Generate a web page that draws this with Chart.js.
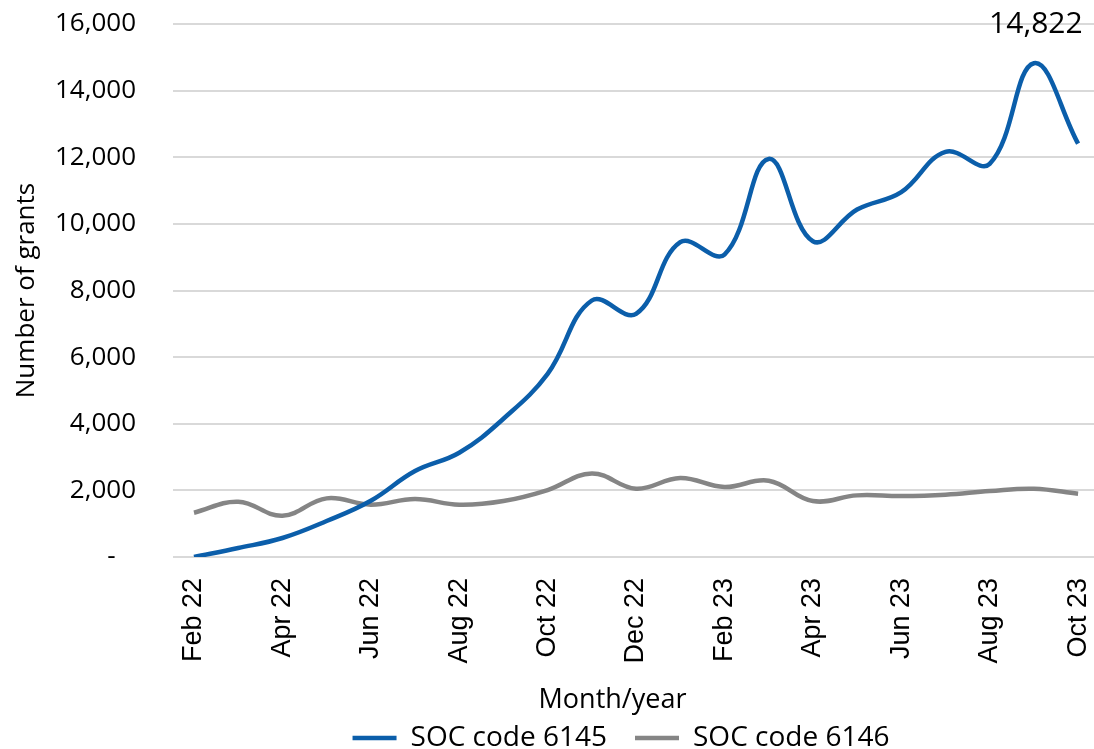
<!DOCTYPE html>
<html>
<head>
<meta charset="utf-8">
<script src="https://cdn.jsdelivr.net/npm/chart.js"></script>
<style>
  html, body { margin: 0; padding: 0; background: #fff; }
  #wrap { width: 1094px; height: 749px; position: relative; }
</style>
</head>
<body>
<div id="wrap"><canvas id="myChart"></canvas></div>
<script>
// months shown on the x axis (every month is a data point)
const months = ['Feb 22', 'Mar 22', 'Apr 22', 'May 22', 'Jun 22', 'Jul 22', 'Aug 22', 'Sep 22',
  'Oct 22', 'Nov 22', 'Dec 22', 'Jan 23', 'Feb 23', 'Mar 23', 'Apr 23', 'May 23', 'Jun 23',
  'Jul 23', 'Aug 23', 'Sep 23', 'Oct 23'];

// number of grants
const soc6145 = [0, 270, 570, 1080, 1690, 2580, 3130, 4150, 5500, 7700, 7300, 9450, 9080,
  11950, 9480, 10430, 10950, 12160, 11800, 14822, 12410];
const soc6146 = [1330, 1660, 1240, 1760, 1570, 1740, 1570, 1680, 2010, 2510, 2050, 2370, 2100,
  2290, 1680, 1850, 1830, 1870, 1980, 2050, 1900];

const seriesNames = ['SOC code 6145', 'SOC code 6146'];
const yTickValues = [0, 2000, 4000, 6000, 8000, 10000, 12000, 14000, 16000];
const xTickIndexes = [0, 2, 4, 6, 8, 10, 12, 14, 16, 18, 20];

// only the peak gets a data label
const labelledIndex = soc6145.indexOf(Math.max(...soc6145));

const BLUE = '#0B5EAA';
const GREY = '#858585';

const toPoints = arr => arr.map((v, i) => ({ x: i, y: v }));

const peakLabel = {
  id: 'peakLabel',
  afterDatasetsDraw(chart) {
    const pt = chart.getDatasetMeta(0).data[labelledIndex];
    const ctx = chart.ctx;
    ctx.save();
    ctx.font = '30px "Open Sans"';
    ctx.fillStyle = '#000';
    ctx.textAlign = 'center';
    ctx.textBaseline = 'middle';
    ctx.fillText(soc6145[labelledIndex].toLocaleString('en-US'), pt.x + 2, pt.y - 39);
    ctx.restore();
  }
};

// keep the legend short for layout, then put it where the reference has it
const legendPlace = {
  id: 'legendPlace',
  beforeLayout(chart) {
    const lg = chart.legend;
    if (lg && !lg._fixedFit) {
      const fit = lg.fit;
      lg.fit = function () { fit.call(this); this.height = 36; };
      lg._fixedFit = true;
    }
  },
  afterLayout(chart) {
    const lg = chart.legend;
    lg.left = 148;
    lg.right = chart.width;
    lg.top = 696;
    lg.bottom = 749;

    // the x title sits a bit left of the plot centre in the reference
    const xs = chart.scales.x;
    if (!xs._titleShift) {
      const drawTitle = xs.drawTitle;
      xs.drawTitle = function () {
        const l = this.left;
        this.left = l - 42;
        drawTitle.call(this);
        this.left = l;
      };
      xs._titleShift = true;
    }
  }
};

new Chart(document.getElementById('myChart'), {
  type: 'line',
  data: {
    datasets: [
      {
        label: seriesNames[0],
        data: toPoints(soc6145),
        borderColor: BLUE,
        backgroundColor: BLUE,
        borderWidth: 4.5,
        pointRadius: 0,
        tension: 0.4
      },
      {
        label: seriesNames[1],
        data: toPoints(soc6146),
        borderColor: GREY,
        backgroundColor: GREY,
        borderWidth: 4.5,
        pointRadius: 0,
        tension: 0.4
      }
    ]
  },
  options: {
    responsive: true,
    maintainAspectRatio: false,
    animation: false,
    layout: { padding: { top: 24, right: 0, left: 0, bottom: -4 } },
    plugins: {
      tooltip: { enabled: false },
      legend: {
        position: 'bottom',
        labels: {
          color: '#000',
          font: { family: 'Open Sans', size: 28 },
          boxWidth: 44,
          boxHeight: 0,
          padding: 28
        }
      }
    },
    scales: {
      x: {
        type: 'linear',
        min: -0.475,
        max: 20.36,
        grid: { display: false },
        border: { display: false },
        afterBuildTicks(scale) {
          scale.ticks = xTickIndexes.map(v => ({ value: v }));
        },
        afterFit(scale) {
          scale.height = 160;
          scale.paddingLeft = 0;
          scale.paddingRight = 0;
        },
        ticks: {
          autoSkip: false,
          minRotation: 90,
          maxRotation: 90,
          padding: 13,
          color: '#000',
          font: { family: 'Liberation Sans', size: 27 },
          callback: v => months[v]
        },
        title: {
          display: true,
          text: 'Month/year',
          color: '#000',
          font: { family: 'Open Sans', size: 27 },
          padding: { top: 0, bottom: 0 }
        }
      },
      y: {
        min: 0,
        max: 16000,
        afterBuildTicks(scale) {
          scale.ticks = yTickValues.map(v => ({ value: v }));
        },
        afterFit(scale) {
          scale.width = 173;
          scale.paddingTop = 0;
          scale.paddingBottom = 0;
        },
        grid: { color: '#D9D9D9', lineWidth: 2, drawTicks: false },
        border: { display: false },
        ticks: {
          padding: 37,
          color: '#000',
          font: { family: 'Open Sans', size: 26 },
          callback: v => (v === 0 ? '-   ' : v.toLocaleString('en-US'))
        },
        title: {
          display: true,
          text: 'Number of grants',
          color: '#000',
          font: { family: 'Open Sans', size: 26 },
          padding: { top: 11, bottom: 0 }
        }
      }
    }
  },
  plugins: [peakLabel, legendPlace]
});
</script>
</body>
</html>
